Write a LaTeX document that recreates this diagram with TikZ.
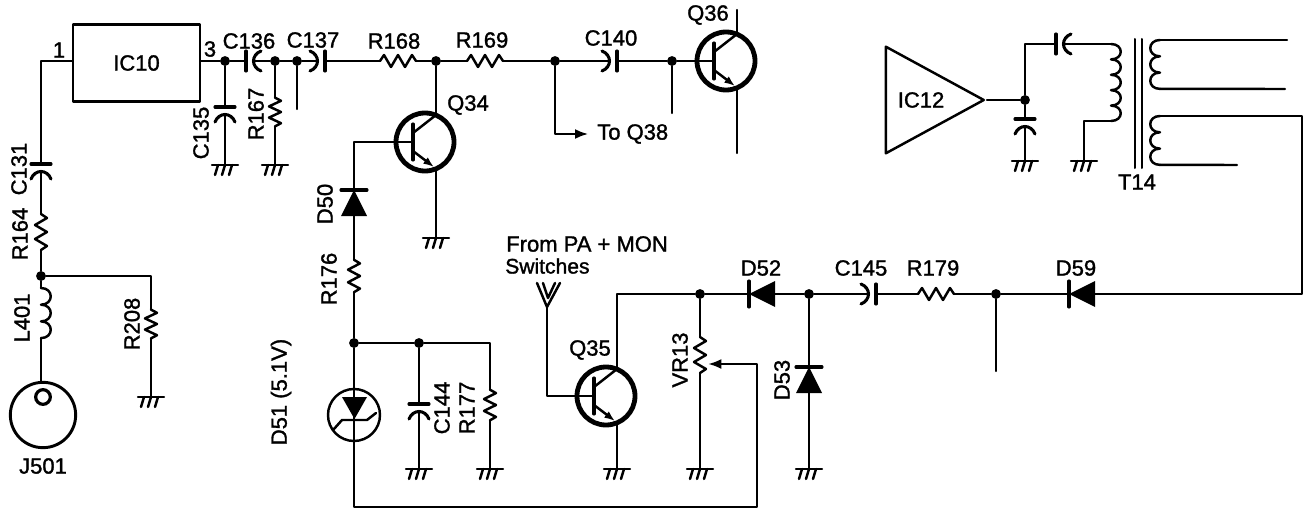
\documentclass[tikz,border=0pt]{standalone}
\usepackage{fontspec}
\setmainfont[FakeBold=1.4]{Liberation Sans}
\usetikzlibrary{shapes.geometric,arrows.meta}
\tikzset{
  wire/.style={line width=1.85pt,line cap=round,line join=round},
  lbl/.style={font=\fontsize{16.5}{18}\selectfont,inner sep=0pt},
  vlbl/.style={lbl,rotate=90},
  jdot/.style={circle,fill=black,inner sep=0pt,minimum size=7.4pt},
  res/.pic={
    \draw[wire] (-18,0) coordinate (-a) -- (-14,-6) -- (-7,6) -- (0,-6) -- (7,6) -- (14,-6) -- (18,0) coordinate (-b);
  },
  cap/.pic={
    \draw[wire,line width=2.3pt] (-5,-10) -- (-5,10);
    \draw[wire,line width=2.3pt] (10,-10) .. controls (0,-6) and (0,6) .. (10,10);
    \coordinate (-a) at (-5,0);
    \coordinate (-b) at (2.5,0);
  },
  diode/.pic={
    \fill[wire] (-13,-13) -- (13,0) -- (-13,13) -- cycle;
    \draw[wire,line width=2.3pt] (13,-13) -- (13,13);
    \coordinate (-a) at (-13,0);
    \coordinate (-b) at (13,0);
  },
  zener/.pic={
    \draw[wire] (0,0) circle (26);
    \draw[wire] (0,-26) coordinate (-a) -- (0,26) coordinate (-b);
    \fill[wire] (-12,-18) -- (13,-18) -- (0.5,4) -- cycle;
    \draw[wire] (-20,14) -- (-12,5) -- (13,5) -- (22,-2);
  },
  npn/.pic={
    \draw[line width=3.6pt] (0,0) circle (29);
    \draw[wire] (-29,0) coordinate (-b) -- (-12,0);
    \draw[wire,line width=2.3pt] (-12,-18) -- (-12,18);
    \draw[wire] (-12,-9) -- (11,-27) coordinate (-c);
    \draw[wire,->,>={Latex[length=8pt,width=6pt]}] (-12,9) -- (9,25);
    \coordinate (-e) at (11,27);
  },
  gnd/.pic={
    \draw[wire] (-13,0) -- (13,0);
    \draw[wire] (-7,0) -- (-10,10);
    \draw[wire] (0,0) -- (-3,10);
    \draw[wire] (7,0) -- (4,10);
    \coordinate (-a) at (0,0);
  },
  inp/.pic={
    \draw[wire] (-10,-24) -- (0,0) coordinate (-a) -- (13,-24);
    \draw[wire] (-4,-24) -- (1,-9) -- (8,-24);
  },
  pics/coil/.style 2 args={code={
    \draw[wire] \foreach \i in {1,...,#1} {(0,{(\i-1)*#2}) .. controls (13,{(\i-1)*#2}) and (13,{\i*#2}) .. (0,{\i*#2})};
    \coordinate (-a) at (0,0);
    \coordinate (-b) at (0,{#1*#2});
  }}
}
\begin{document}
\begin{tikzpicture}[x=0.75pt,y=-0.75pt]
  \useasboundingbox (0,0) rectangle (1304,510);
  \node[draw,wire,lbl,minimum width=95.25pt,minimum height=58pt] (ic10) at (136.5,63) {IC10};
  \node[draw,wire,lbl,isosceles triangle,isosceles triangle stretches,minimum width=80pt,minimum height=73.5pt,anchor=apex] (ic12) at (987,100) {IC12};
  \node[draw,circle,line width=2.2pt,inner sep=0pt,minimum size=49pt] (j501) at (43,415) {};
  \node[draw,circle,line width=2.4pt,inner sep=0pt,minimum size=11pt] (j501in) at (43,397) {};

  \node[jdot] (dc135) at (225,61) {};
  \node[jdot] (dr167) at (275,61) {};
  \node[jdot] (ds137) at (297,61) {};
  \node[jdot] (dq34) at (436,61) {};
  \node[jdot] (dq38) at (555,61) {};
  \node[jdot] (dq36) at (672,61) {};
  \node[jdot] (dl401) at (41,276) {};
  \node[jdot] (dr176) at (354,343) {};
  \node[jdot] (dc144) at (419,343) {};
  \node[jdot] (dvr13) at (700,294) {};
  \node[jdot] (dd53) at (809,294) {};
  \node[jdot] (dr179) at (996,294) {};
  \node[jdot] (dic12) at (1025,100) {};

  \pic (c136) at (251,61) {cap};
  \pic[rotate=180] (c137) at (320,61) {cap};
  \pic (r168) at (398,61) {res};
  \pic (r169) at (485,61) {res};
  \pic[rotate=180] (c140) at (612,61) {cap};
  \pic (q36) at (726,61) {npn};
  \pic (q34) at (425,142) {npn};
  \pic (q35) at (606,396) {npn};
  \pic[rotate=-90] (c131) at (41,169) {cap};
  \pic[rotate=-90] (r164) at (41,232) {res};
  \pic (l401) at (41,288) {coil={3}{16.7}};
  \pic[rotate=-90,xscale=.8] (r208) at (151,324) {res};
  \pic[rotate=-90] (c135) at (225,112) {cap};
  \pic[rotate=-90,xscale=.8] (r167) at (275,112) {res};
  \pic[rotate=90] (d50) at (354,203) {diode};
  \pic[rotate=-90,xscale=.9] (r176) at (354,276) {res};
  \pic (d51) at (354,415) {zener};
  \pic[rotate=-90] (c144) at (419,409) {cap};
  \pic[rotate=-90,xscale=.85] (r177) at (490,405) {res};
  \pic[rotate=-90] (vr13) at (700,355) {res};
  \pic[rotate=180] (d52) at (762,294) {diode};
  \pic[rotate=90] (d53) at (809,380) {diode};
  \pic[rotate=180] (c145) at (871,294) {cap};
  \pic (r179) at (936,294) {res};
  \pic[rotate=180] (d59) at (1082,294) {diode};
  \pic (inp35) at (547,307) {inp};
  \pic (c12a) at (1061,44) {cap};
  \pic[rotate=-90] (c12b) at (1025,124) {cap};
  \pic (t14p) at (1111,44) {coil={5}{15.4}};
  \pic[xscale=-1] (t14s) at (1160,40) {coil={3}{16.3}};
  \pic[xscale=-1] (t14t) at (1160,116) {coil={3}{16.3}};

  \pic (gr208) at (151,397) {gnd};
  \pic (gc135) at (225,165) {gnd};
  \pic (gr167) at (275,165) {gnd};
  \pic (gq34) at (436,238) {gnd};
  \pic (gc144) at (419,469) {gnd};
  \pic (gr177) at (490,469) {gnd};
  \pic (gq35) at (617,469) {gnd};
  \pic (gvr13) at (700,469) {gnd};
  \pic (gd53) at (809,469) {gnd};
  \pic (gc12) at (1025,161) {gnd};
  \pic (gt14) at (1084,161) {gnd};

  \coordinate (s137) at (297,109);
  \coordinate (s140) at (672,113);
  \coordinate (s179) at (996,371);
  \coordinate (q36top) at (737,10);
  \coordinate (q36bot) at (737,153);
  \coordinate (vrtip) at (708,364);
  \coordinate (vrcnr) at (757,364);
  \coordinate (botcnr) at (757,507);
  \coordinate (t14cnr) at (1302,116);
  \coordinate (t14a) at (1287,40);
  \coordinate (t14b) at (1285,89);
  \coordinate (t14c) at (1237,165);

  \draw[wire] (ic10.west|-dc135) -| (c131-a);
  \draw[wire] (c131-b) -- (r164-a);
  \draw[wire] (r164-b) -- (dl401);
  \draw[wire] (dl401) -- (l401-a);
  \draw[wire] (l401-b) -- (l401-b|-j501.north);
  \draw[wire] (dl401) -| (r208-a);
  \draw[wire] (r208-b) -- (gr208-a);
  \draw[wire] (ic10.east|-dc135) -- (dc135) -- (c136-a);
  \draw[wire] (dc135) -- (c135-a);
  \draw[wire] (c135-b) -- (gc135-a);
  \draw[wire] (c136-b) -- (dr167) -- (ds137) -- (c137-b);
  \draw[wire] (dr167) -- (r167-a);
  \draw[wire] (r167-b) -- (gr167-a);
  \draw[wire] (ds137) -- (s137);
  \draw[wire] (c137-a) -- (r168-a);
  \draw[wire] (r168-b) -- (dq34) -- (r169-a);
  \draw[wire] (r169-b) -- (dq38) -- (c140-b);
  \draw[wire] (c140-a) -- (dq36) -- (q36-b);
  \draw[wire] (dq36) -- (s140);
  \draw[wire] (q36-c) -- (q36top);
  \draw[wire] (q36-e) -- (q36bot);
  \draw[wire] (dq34) -- (q34-c);
  \draw[wire] (q34-e) -- (gq34-a);
  \draw[wire] (q34-b) -| (d50-b);
  \draw[wire] (d50-a) -- (r176-a);
  \draw[wire] (r176-b) -- (dr176) -- (d51-a);
  \draw[wire] (dr176) -- (dc144) -| (r177-a);
  \draw[wire] (dc144) -- (c144-a);
  \draw[wire] (c144-b) -- (gc144-a);
  \draw[wire] (r177-b) -- (gr177-a);
  \draw[wire,->,>={Latex[length=10pt,width=7.5pt]}] (d51-b) |- (botcnr) -- (vrcnr) -- (vrtip);
  \draw[wire] (inp35-a) |- (q35-b);
  \draw[wire] (q35-c) |- (dvr13);
  \draw[wire] (q35-e) -- (gq35-a);
  \draw[wire] (dvr13) -- (vr13-a);
  \draw[wire] (vr13-b) -- (gvr13-a);
  \draw[wire] (dvr13) -- (d52-b);
  \draw[wire] (d52-a) -- (dd53) -- (c145-b);
  \draw[wire] (dd53) -- (d53-b);
  \draw[wire] (d53-a) -- (gd53-a);
  \draw[wire] (c145-a) -- (r179-a);
  \draw[wire] (r179-b) -- (dr179) -- (d59-b);
  \draw[wire] (dr179) -- (s179);
  \draw[wire] (d59-a) -| (t14cnr) -- (t14t-a);
  \draw[wire] (t14t-b) -- (t14c);
  \draw[wire] (t14s-a) -- (t14a);
  \draw[wire] (t14s-b) -- (t14b);
  \draw[wire] (ic12.apex) -- (dic12);
  \draw[wire] (dic12) |- (c12a-a);
  \draw[wire] (dic12) -- (c12b-a);
  \draw[wire] (c12b-b) -- (gc12-a);
  \draw[wire] (c12a-b) -- (t14p-a);
  \draw[wire] (t14p-b) -| (gt14-a);
  \draw[wire,line width=1.5pt] (1135,39) -- (1135,168);
  \draw[wire,line width=1.5pt] (1142,39) -- (1142,168);

  \node[lbl] (l1) at (59,50) {1};
  \node[lbl] (l3) at (210,49) {3};
  \node[lbl] (lc136) at (249,41) {C136};
  \node[lbl] (lc137) at (313,40) {C137};
  \node[lbl] (lr168) at (394,41) {R168};
  \node[lbl] (lr169) at (482,40) {R169};
  \node[lbl] (lc140) at (611,38) {C140};
  \node[lbl] (lq36) at (708,15) {Q36};
  \node[lbl] (lq34) at (468,105) {Q34};
  \node[lbl,anchor=west] (ltoq38) at (597,134) {To Q38};
  \draw[wire,->,>={Latex[length=10pt,width=7.5pt]},shorten >=6.5pt] (dq38) |- (ltoq38.west);
  \node[lbl] (lj501) at (43,466) {J501};
  \node[vlbl] (lc131) at (19,169) {C131};
  \node[vlbl] (lr164) at (20,234) {R164};
  \node[vlbl] (ll401) at (22,318) {L401};
  \node[vlbl] (lr208) at (132,324) {R208};
  \node[vlbl] (lc135) at (201,133) {C135};
  \node[vlbl] (lr167) at (256,114) {R167};
  \node[vlbl] (ld50) at (325,204) {D50};
  \node[vlbl] (lr176) at (329,279) {R176};
  \node[vlbl] (ld51) at (281,392) {D51 (5.1V)};
  \node[vlbl] (lc144) at (442,408) {C144};
  \node[vlbl] (lr177) at (467,408) {R177};
  \node[lbl,anchor=west] (lfrom) at (506,244) {From PA + MON};
  \node[lbl,anchor=west,font=\fontsize{15.8}{18}\selectfont] (lsw) at (505,266) {Switches};
  \node[lbl] (lq35) at (590,350) {Q35};
  \node[vlbl] (lvr13) at (680,360) {VR13};
  \node[vlbl] (ld53) at (782,380) {D53};
  \node[lbl] (ld52) at (761,268) {D52};
  \node[lbl] (lc145) at (861,268) {C145};
  \node[lbl] (lr179) at (933,268) {R179};
  \node[lbl] (ld59) at (1076,268) {D59};
  \node[lbl] (lt14) at (1137,182) {T14};
\end{tikzpicture}
\end{document}
